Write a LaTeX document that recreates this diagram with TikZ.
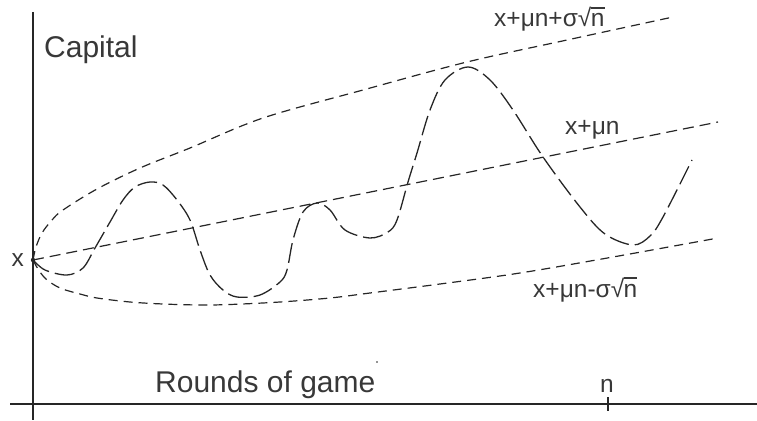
\documentclass[tikz,border=0pt]{standalone}
\usepackage{fontspec}
\setmainfont{Liberation Sans}
\newcommand\ovn{\rlap{\rule[0.74em]{0.56em}{0.07em}}n}
\definecolor{ink}{HTML}{262626}
\definecolor{txt}{HTML}{383838}
\begin{document}
\begin{tikzpicture}[x=1pt,y=-1pt,
  axisline/.style={line width=1.8pt, draw=ink},
  envelope/.style={line width=1.2pt, draw=ink, dash pattern=on 9pt off 6pt},
  meanline/.style={line width=1.2pt, draw=ink, dash pattern=on 11pt off 6pt},
  walk/.style={line width=1.3pt, draw=ink, dash pattern=on 20pt off 6pt},
  biglbl/.style={text=txt, inner sep=0pt, font=\fontsize{30}{35}\selectfont},
  lbl/.style={text=txt, inner sep=0pt, font=\fontsize{24.5}{29}\selectfont}]
\useasboundingbox (0,0) rectangle (757,420);
% axes
\coordinate (ytop) at (33,12);
\coordinate (ybot) at (33,420);
\coordinate (xleft) at (10,404);
\coordinate (xright) at (757,404);
\coordinate (O) at (33,260);
\coordinate (ntop) at (608,397);
\coordinate (nbot) at (608,411);
\coordinate (meanend) at (718,122);
\draw[axisline] (ytop) -- (ybot);
\draw[axisline] (xleft) -- (xright);
\draw[line width=1.6pt, draw=ink] (ntop) -- (nbot);
% mean line
\draw[meanline] (O) -- (meanend);
% upper envelope
\draw[envelope] plot[smooth, tension=0.55] coordinates {(33,260) (36,247) (42,233) (52,220) (63,210) (97,189) (140,168) (190,148) (263,118) (363,90) (467,62) (567,40) (673,17)};
% lower envelope
\draw[envelope] plot[smooth, tension=0.55] coordinates {(33,260) (38,269) (46,279) (60,288) (80,294) (97,298) (130,302) (163,304) (200,305) (230,304.5) (280,302) (330,298) (370,293) (440,284) (520,273) (613,257) (718,238)};
% random walk
\draw[walk] plot[smooth, tension=0.55] coordinates {(33,260) (45,270) (67,275) (83,268) (95,248) (110,222) (123,200) (135,187) (150,182) (163,185) (177,200) (190,220) (200,250) (210,275) (223,290) (237,297) (260,295) (280,282) (287,270) (293,240) (303,212) (317,203) (330,210) (345,230) (370,238) (388,232) (397,220) (408,182) (417,153) (430,110) (445,80) (468,67) (490,80) (513,110) (543,157) (580,207) (605,234) (633,245) (650,236) (663,217) (692,160)};
\fill[ink] (O) circle (2.2pt);
\fill[ink] (377,362) circle (0.8pt);
% labels
\node[biglbl, anchor=base west] (cap) at (44,57) {Capital};
\node[biglbl, anchor=base west] (rounds) at (155,392) {Rounds of game};
\node[lbl, anchor=base] (nlbl) at (607,392) {n};
\node[lbl, anchor=base east] (xlbl) at (24,266) {x};
\node[lbl, anchor=base west] (up) at (494,27) {x+μn+σ√\kern-0.5pt\ovn};
\node[lbl, anchor=base west] (mid) at (565,134) {x+μn};
\node[lbl, anchor=base west] (low) at (533,297) {x+μn-σ√\kern-0.5pt\ovn};
\end{tikzpicture}
\end{document}
